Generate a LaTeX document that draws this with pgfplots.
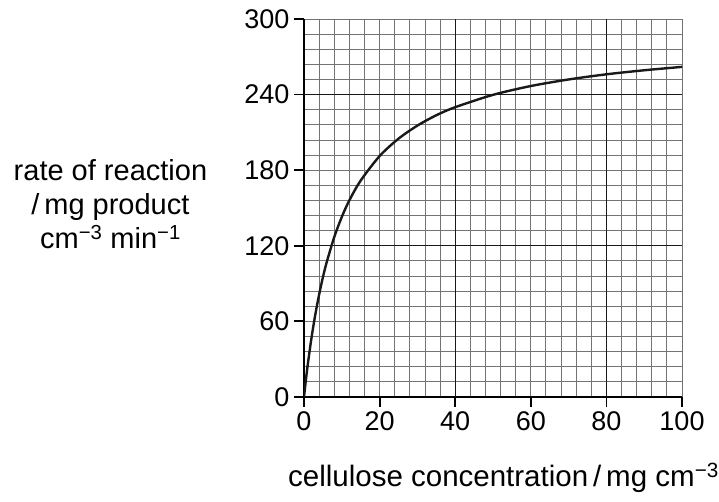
\documentclass[border=0pt]{standalone}
\usepackage{pgfplots}
\pgfplotsset{compat=1.18}
\usepackage{fontspec}
\setmainfont{Liberation Sans}
\begin{document}
\begin{tikzpicture}
\useasboundingbox (0,0) rectangle (719pt,502pt);
\begin{axis}[
  at={(304pt,105pt)}, anchor=south west,
  scale only axis, width=378pt, height=378pt,
  xmin=0, xmax=100, ymin=0, ymax=300,
  xtick={0,20,...,100}, ytick={0,60,...,300},
  minor x tick num=4, minor y tick num=4,
  grid=both,
  minor grid style={black!55, line width=0.9pt},
  major grid style={black!55, line width=0.9pt},
  axis lines*=left,
  axis line style={black, line width=2.2pt},
  tick pos=left, tick align=outside,
  major tick length=10pt, minor tick length=0pt,
  every tick/.style={black, line width=1.8pt},
  extra x ticks={40,80}, extra y ticks={120,240},
  extra x tick labels={}, extra y tick labels={},
  extra tick style={grid=major, major grid style={black!90, line width=1.4pt}},
  /pgf/number format/assume math mode=true,
  tick label style={font=\fontsize{27}{31}\selectfont},
  xticklabel style={yshift=-1pt},
  yticklabel style={xshift=-1pt},
  xlabel={cellulose concentration\,/\,mg cm\textsuperscript{−3}},
  xlabel style={at={(axis description cs:1.098,-0.237)}, anchor=base east, font=\fontsize{29.5}{34}\selectfont, inner sep=0pt},
  ylabel={rate of reaction\\/\,mg product\\cm\textsuperscript{−3} min\textsuperscript{−1}},
  ylabel style={at={(axis description cs:-0.512,0.51)}, anchor=center, rotate=-90, align=center, font=\fontsize{29}{34}\selectfont},
  clip=true,
]
\addplot[black!90, line width=2.4pt, smooth] coordinates {
(0,0) (0.5,13.5) (1,25.8) (2,47.3) (3,65.6) (4,81.3) (5,95.0) (6,106.9)
(8,126.9) (10,142.9) (12,156.1) (15,171.8) (20,191.2) (25,205.0) (30,215.4)
(35,223.6) (40,230.0) (50,239.8) (60,246.8) (70,252.0) (80,256.1) (90,259.3) (100,262.0)
};
\end{axis}
\end{tikzpicture}
\end{document}
